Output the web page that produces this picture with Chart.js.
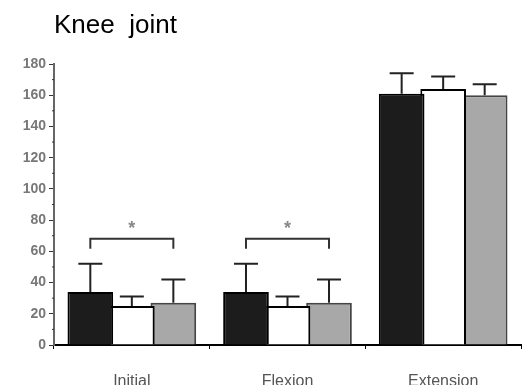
<!DOCTYPE html>
<html>
<head>
<meta charset="utf-8">
<script src="https://cdn.jsdelivr.net/npm/chart.js@4"></script>
<style>
  html, body { margin: 0; padding: 0; background: #fff; }
  #wrap { width: 524px; height: 385px; position: relative; }
</style>
</head>
<body>
<div id="wrap"><canvas id="knee"></canvas></div>
<script>
// ===========================================
// Data
// ===========================================
var categories = ["Initial", "Flexion", "Extension"];

var black_values = [34, 34, 161];
var white_values = [25, 25, 164];
var gray_values  = [27, 27, 160];

// error bar (upper) sizes
var black_err = [18, 18, 13];
var white_err = [6, 6, 8];
var gray_err  = [15, 15, 7];

var y_ticks = [0, 20, 40, 60, 80, 100, 120, 140, 160, 180];

// significance brackets: [category index, height]
var brackets = [[0, 68], [1, 68]];

// ===========================================
// Plugin for error bars, brackets, title
// ===========================================
var extras = {
	id: 'extras',
	afterDatasetsDraw: function(chart) {
		var ctx = chart.ctx;
		var y = chart.scales.y;
		var errs = [black_err, white_err, gray_err];
		ctx.save();
		// error bars
		chart.data.datasets.forEach(function(ds, di) {
			var meta = chart.getDatasetMeta(di);
			meta.data.forEach(function(bar, i) {
				var top = y.getPixelForValue(ds.data[i] + errs[di][i]);
				var base = y.getPixelForValue(ds.data[i]);
				ctx.strokeStyle = '#222';
				ctx.lineWidth = 2;
				ctx.beginPath();
				ctx.moveTo(bar.x, base);
				ctx.lineTo(bar.x, top);
				ctx.moveTo(bar.x - 12, top);
				ctx.lineTo(bar.x + 12, top);
				ctx.stroke();
			});
		});
		// brackets
		brackets.forEach(function(b) {
			var x1 = chart.getDatasetMeta(0).data[b[0]].x;
			var x2 = chart.getDatasetMeta(2).data[b[0]].x;
			var yy = y.getPixelForValue(b[1]);
			ctx.strokeStyle = '#333';
			ctx.lineWidth = 2;
			ctx.beginPath();
			ctx.moveTo(x1, yy + 10);
			ctx.lineTo(x1, yy);
			ctx.lineTo(x2, yy);
			ctx.lineTo(x2, yy + 10);
			ctx.stroke();
			ctx.fillStyle = '#888';
			ctx.font = 'bold 18px Arial';
			ctx.textAlign = 'center';
			ctx.textBaseline = 'middle';
			ctx.fillText('*', (x1 + x2) / 2, yy - 10);
		});
		// minor y ticks
		ctx.strokeStyle = '#333';
		ctx.lineWidth = 1;
		for (var v = 10; v < 180; v += 20) {
			var py = y.getPixelForValue(v);
			ctx.beginPath();
			ctx.moveTo(chart.chartArea.left - 2, py);
			ctx.lineTo(chart.chartArea.left, py);
			ctx.stroke();
		}
		// title
		ctx.fillStyle = '#000';
		ctx.font = '26px Arial';
		ctx.textAlign = 'left';
		ctx.textBaseline = 'alphabetic';
		ctx.fillText('Knee  joint', 54, 33);
		ctx.restore();
	}
};

// ===========================================
// Chart
// ===========================================
new Chart(document.getElementById('knee').getContext('2d'), {
	type: 'bar',
	data: {
		labels: categories,
		datasets: [
			{ data: black_values, backgroundColor: '#1c1c1c', borderColor: '#000', borderWidth: 2 },
			{ data: white_values, backgroundColor: '#ffffff', borderColor: '#000', borderWidth: 2 },
			{ data: gray_values,  backgroundColor: '#a8a8a8', borderColor: '#444', borderWidth: 2 }
		]
	},
	options: {
		responsive: true,
		maintainAspectRatio: false,
		animation: false,
		layout: { padding: { top: 64, right: 3, left: 0, bottom: 0 } },
		plugins: { legend: { display: false }, tooltip: { enabled: false }, title: { display: false } },
		datasets: { bar: { barPercentage: 1.1, categoryPercentage: 0.8 } },
		scales: {
			x: {
				grid: { display: true, drawOnChartArea: false, offset: true, tickLength: 4, color: '#000' },
				border: { display: true, color: '#000', width: 2 },
				ticks: { color: '#555', font: { family: 'Arial', size: 16 }, padding: 23 },
				afterFit: function(s) { s.height = 40; }
			},
			y: {
				min: 0,
				max: 180,
				afterBuildTicks: function(s) { s.ticks = y_ticks.map(function(v) { return { value: v }; }); },
				grid: { display: true, drawOnChartArea: false, tickLength: 5, color: '#333' },
				border: { display: true, color: '#666', width: 2 },
				ticks: { color: '#777', font: { family: 'Arial', size: 14, weight: 'bold' }, padding: 3 },
				afterFit: function(s) { s.width = 54; }
			}
		}
	},
	plugins: [extras]
});
</script>
</body>
</html>
